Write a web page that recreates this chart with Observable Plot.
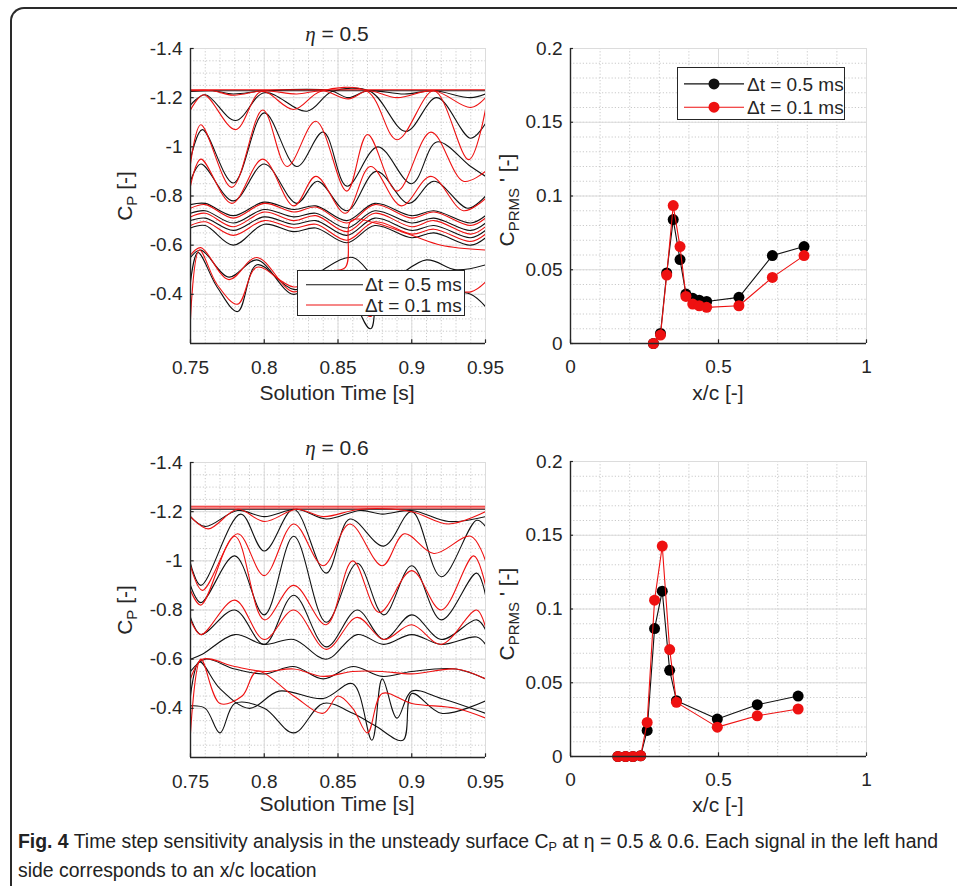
<!DOCTYPE html>
<html><head><meta charset="utf-8">
<script src="https://cdn.jsdelivr.net/npm/d3@7"></script>
<script src="https://cdn.jsdelivr.net/npm/@observablehq/plot@0.6"></script>
<style>
body{margin:0;background:#fff;}
#root{position:relative;width:957px;height:886px;overflow:hidden;background:#fff;font-family:"Liberation Sans",Arial,sans-serif;color:#262626;}
.frame{position:absolute;left:10px;top:7px;width:1000px;height:1000px;border-left:2px solid #2a2a2a;border-top:2px solid #2a2a2a;border-top-left-radius:14px;}
.abs{position:absolute;white-space:nowrap;}
.lbl{font-size:21px;transform:translate(-50%,-50%);}
.ylbl{font-size:21px;transform:translate(-50%,-50%) rotate(-90deg);}
.leg{position:absolute;background:#fff;border:1px solid #262626;box-sizing:border-box;font-size:19px;}
.cap{position:absolute;left:18px;white-space:nowrap;font-family:"Liberation Sans",Arial,sans-serif;font-size:20px;color:#222;transform-origin:0 50%;}
</style></head><body><div id="root"><div class="frame"></div></div>
<script>
// ---------- data ----------
const timeTicks = [0.75, 0.8, 0.85, 0.9, 0.95];
const cpTicks = [-1.4, -1.2, -1, -0.8, -0.6, -0.4];
const xcTicks = [0, 0.5, 1];
const rmsTicks = [0, 0.05, 0.1, 0.15, 0.2];
const seriesNames = ["\u0394t = 0.5 ms", "\u0394t = 0.1 ms"];

// eta = 0.5, Cp signals (extrema), black = 0.5 ms, red = 0.1 ms
const cp05_black = [
  [[0.75,-1.228],[0.95,-1.228]],
  [[0.75,-1.225],[0.765,-1.228],[0.779,-1.215],[0.80,-1.228],[0.845,-1.228],[0.857,-1.2],[0.87,-1.228],[0.895,-1.215],[0.915,-1.228],[0.94,-1.2],[0.95,-1.215]],
  [[0.75,-1.17],[0.76,-1.212],[0.7805,-1.107],[0.80,-1.22],[0.829,-1.145],[0.846,-1.225],[0.872,-1.225],[0.896,-1.063],[0.917,-1.2],[0.94,-1.035],[0.95,-1.095]],
  [[0.75,-0.95],[0.758,-1.07],[0.779,-0.853],[0.80,-1.138],[0.822,-0.92],[0.84,-1.06],[0.856,-0.84],[0.877,-1.0],[0.9,-0.85],[0.917,-1.02],[0.94,-0.92],[0.95,-0.88]],
  [[0.75,-0.86],[0.757,-0.93],[0.779,-0.78],[0.80,-0.93],[0.822,-0.77],[0.836,-0.86],[0.856,-0.74],[0.876,-0.9],[0.898,-0.77],[0.915,-0.86],[0.938,-0.75],[0.95,-0.8]],
  [[0.75,-0.765],[0.76,-0.77],[0.779,-0.72],[0.80,-0.775],[0.82,-0.745],[0.835,-0.76],[0.856,-0.7],[0.875,-0.77],[0.9,-0.72],[0.915,-0.74],[0.94,-0.69],[0.95,-0.72]],
  [[0.75,-0.73],[0.76,-0.74],[0.779,-0.69],[0.80,-0.745],[0.82,-0.715],[0.835,-0.73],[0.856,-0.67],[0.875,-0.74],[0.9,-0.69],[0.915,-0.71],[0.94,-0.66],[0.95,-0.69]],
  [[0.75,-0.7],[0.76,-0.71],[0.779,-0.66],[0.80,-0.715],[0.82,-0.685],[0.835,-0.70],[0.856,-0.64],[0.875,-0.71],[0.9,-0.66],[0.915,-0.68],[0.94,-0.63],[0.95,-0.66]],
  [[0.75,-0.67],[0.76,-0.68],[0.779,-0.6],[0.80,-0.685],[0.82,-0.655],[0.835,-0.67],[0.856,-0.61],[0.875,-0.68],[0.9,-0.63],[0.915,-0.65],[0.94,-0.6],[0.95,-0.63]],
  [[0.75,-0.55],[0.757,-0.58],[0.776,-0.47],[0.795,-0.54],[0.82,-0.4],[0.84,-0.5],[0.86,-0.55],[0.88,-0.45],[0.91,-0.54],[0.93,-0.5],[0.95,-0.52]],
  [[0.75,-0.45],[0.755,-0.57],[0.768,-0.43],[0.782,-0.33],[0.795,-0.52],[0.82,-0.42],[0.85,-0.47],[0.872,-0.26],[0.88,-0.47],[0.92,-0.42],[0.94,-0.4],[0.95,-0.35]]
];
const cp05_red = [
  [[0.75,-1.232],[0.95,-1.232]],
  [[0.75,-1.228],[0.765,-1.228],[0.779,-1.21],[0.80,-1.228],[0.822,-1.215],[0.84,-1.228],[0.857,-1.195],[0.87,-1.228],[0.89,-1.2],[0.915,-1.228],[0.94,-1.16],[0.95,-1.2]],
  [[0.75,-1.15],[0.759,-1.212],[0.7805,-1.07],[0.798,-1.225],[0.82,-1.152],[0.838,-1.225],[0.87,-1.225],[0.89,-1.029],[0.915,-1.228],[0.9387,-0.948],[0.95,-1.152]],
  [[0.75,-0.93],[0.757,-1.09],[0.778,-0.835],[0.799,-1.15],[0.8155,-0.92],[0.835,-1.104],[0.856,-0.82],[0.87,-1.05],[0.89,-0.82],[0.913,-1.06],[0.935,-0.86],[0.95,-0.9]],
  [[0.75,-0.84],[0.757,-0.95],[0.778,-0.77],[0.799,-0.95],[0.82,-0.76],[0.835,-0.88],[0.855,-0.73],[0.872,-0.92],[0.893,-0.76],[0.913,-0.88],[0.935,-0.74],[0.95,-0.79]],
  [[0.75,-0.75],[0.76,-0.765],[0.779,-0.71],[0.80,-0.77],[0.82,-0.735],[0.835,-0.755],[0.856,-0.69],[0.875,-0.765],[0.9,-0.71],[0.915,-0.735],[0.94,-0.68],[0.95,-0.71]],
  [[0.75,-0.715],[0.76,-0.73],[0.779,-0.675],[0.80,-0.735],[0.82,-0.7],[0.835,-0.72],[0.856,-0.655],[0.875,-0.73],[0.9,-0.675],[0.915,-0.7],[0.94,-0.645],[0.95,-0.675]],
  [[0.75,-0.68],[0.76,-0.695],[0.779,-0.64],[0.80,-0.70],[0.82,-0.67],[0.835,-0.685],[0.856,-0.62],[0.875,-0.695],[0.9,-0.645],[0.915,-0.665],[0.94,-0.615],[0.95,-0.645]],
  [[0.75,-0.56],[0.757,-0.59],[0.776,-0.46],[0.795,-0.55],[0.82,-0.41],[0.84,-0.49],[0.855,-0.51],[0.859,-0.7],[0.875,-0.69],[0.9,-0.64],[0.92,-0.6],[0.95,-0.58]],
  [[0.75,-0.3],[0.756,-0.58],[0.768,-0.44],[0.782,-0.36],[0.795,-0.51],[0.82,-0.43],[0.85,-0.48],[0.872,-0.31],[0.88,-0.46],[0.92,-0.43],[0.94,-0.41],[0.95,-0.45]]
];
// eta = 0.6
const cp06_black = [
  [[0.75,-1.21],[0.95,-1.21]],
  [[0.75,-1.18],[0.76,-1.14],[0.782,-1.205],[0.80,-1.18],[0.822,-1.21],[0.842,-1.17],[0.865,-1.205],[0.88,-1.19],[0.9,-1.205],[0.925,-1.16],[0.95,-1.18]],
  [[0.75,-0.99],[0.757,-0.9],[0.784,-1.19],[0.80,-1.04],[0.82,-1.21],[0.842,-0.95],[0.858,-1.17],[0.881,-1.06],[0.9,-1.2],[0.92,-0.935],[0.944,-1.165],[0.95,-1.14]],
  [[0.75,-0.9],[0.757,-0.83],[0.78,-1.02],[0.80,-0.78],[0.82,-1.1],[0.842,-0.75],[0.863,-0.99],[0.881,-0.78],[0.9,-0.98],[0.92,-0.76],[0.944,-0.95],[0.95,-0.86]],
  [[0.75,-0.77],[0.757,-0.7],[0.78,-0.8],[0.80,-0.66],[0.82,-0.86],[0.842,-0.65],[0.863,-0.8],[0.881,-0.68],[0.9,-0.78],[0.92,-0.68],[0.944,-0.76],[0.95,-0.72]],
  [[0.75,-0.6],[0.758,-0.62],[0.78,-0.7],[0.80,-0.66],[0.82,-0.68],[0.842,-0.6],[0.863,-0.7],[0.881,-0.66],[0.9,-0.7],[0.92,-0.66],[0.944,-0.69],[0.95,-0.66]],
  [[0.75,-0.55],[0.76,-0.6],[0.78,-0.56],[0.80,-0.54],[0.82,-0.57],[0.84,-0.52],[0.86,-0.57],[0.88,-0.53],[0.9,-0.55],[0.93,-0.56],[0.95,-0.52]],
  [[0.75,-0.45],[0.756,-0.59],[0.77,-0.48],[0.79,-0.4],[0.81,-0.47],[0.84,-0.44],[0.86,-0.5],[0.873,-0.27],[0.88,-0.52],[0.89,-0.36],[0.9,-0.47],[0.92,-0.44],[0.95,-0.38]],
  [[0.75,-0.41],[0.76,-0.4],[0.77,-0.3],[0.78,-0.42],[0.8,-0.4],[0.82,-0.3],[0.84,-0.42],[0.86,-0.38],[0.875,-0.33],[0.894,-0.27],[0.9,-0.46],[0.92,-0.38],[0.95,-0.43]]
];
const cp06_red = [
  [[0.75,-1.215],[0.95,-1.215]],
  [[0.75,-1.222],[0.95,-1.222]],
  [[0.75,-1.18],[0.762,-1.13],[0.782,-1.21],[0.80,-1.16],[0.822,-1.21],[0.84,-1.18],[0.865,-1.21],[0.9,-1.2],[0.925,-1.15],[0.95,-1.2]],
  [[0.75,-0.98],[0.758,-0.88],[0.782,-1.11],[0.80,-0.94],[0.82,-1.15],[0.84,-0.98],[0.858,-1.15],[0.88,-0.98],[0.895,-1.11],[0.915,-1.03],[0.94,-1.1],[0.95,-1.0]],
  [[0.75,-0.88],[0.757,-0.82],[0.78,-1.1],[0.80,-0.76],[0.82,-0.9],[0.842,-0.74],[0.86,-1.0],[0.878,-0.79],[0.9,-0.96],[0.92,-0.8],[0.942,-1.02],[0.95,-0.9]],
  [[0.75,-0.76],[0.757,-0.7],[0.78,-0.84],[0.80,-0.68],[0.82,-0.8],[0.842,-0.64],[0.863,-0.77],[0.881,-0.68],[0.9,-0.74],[0.92,-0.66],[0.944,-0.8],[0.95,-0.73]],
  [[0.75,-0.52],[0.758,-0.6],[0.78,-0.57],[0.80,-0.55],[0.82,-0.56],[0.84,-0.53],[0.86,-0.55],[0.88,-0.55],[0.9,-0.54],[0.93,-0.56],[0.95,-0.52]],
  [[0.75,-0.3],[0.757,-0.6],[0.77,-0.42],[0.785,-0.45],[0.795,-0.55],[0.82,-0.45],[0.84,-0.38],[0.85,-0.45],[0.86,-0.4],[0.87,-0.3],[0.88,-0.46],[0.9,-0.42],[0.93,-0.4],[0.95,-0.36]]
];

// Cp' RMS vs x/c
const xc05 = [0.28, 0.304, 0.325, 0.347, 0.370, 0.390, 0.413, 0.435, 0.460, 0.569, 0.682, 0.789];
const rms05_black = [0.0, 0.0068, 0.0478, 0.084, 0.0569, 0.0335, 0.0306, 0.0294, 0.0285, 0.0313, 0.0596, 0.0657];
const rms05_red   = [0.0, 0.0057, 0.0464, 0.0935, 0.0657, 0.0319, 0.0267, 0.0256, 0.0245, 0.0256, 0.0448, 0.0596];
const xc06 = [0.160, 0.186, 0.211, 0.237, 0.259, 0.284, 0.310, 0.335, 0.358, 0.496, 0.631, 0.769];
const rms06_black = [0.0, 0.0, 0.0, 0.0005, 0.0177, 0.0867, 0.1121, 0.0584, 0.0378, 0.0254, 0.0351, 0.0410];
const rms06_red   = [0.0, 0.0, 0.0, 0.0005, 0.0231, 0.106, 0.1427, 0.0725, 0.0367, 0.0199, 0.0276, 0.0322];

// ---------- helpers ----------
const root = document.getElementById("root");
const FONT = '"Liberation Sans", Arial, sans-serif';
const AX = "#262626";
const range = (a, b, s) => d3.range(Math.round((b - a) / s) + 1).map(i => +(a + i * s).toFixed(6));

function toRows(list, color) {
  const rows = [];
  list.forEach((ser, i) => ser.forEach(([t, v]) => rows.push({t, v, id: color + i})));
  return rows;
}
function place(svg, left, top) {
  svg.style.position = "absolute"; svg.style.left = left + "px"; svg.style.top = top + "px";
  svg.style.overflow = "visible";
  root.appendChild(svg);
}
function addDiv(cls, html, left, top, extra) {
  const d = document.createElement("div");
  d.className = cls; d.innerHTML = html;
  d.style.left = left + "px"; d.style.top = top + "px";
  if (extra) Object.assign(d.style, extra);
  root.appendChild(d); return d;
}

function cpPanel(black, red, left, top) {
  const rowsB = toRows(black, "b"), rowsR = toRows(red, "r");
  const minX = range(0.75, 0.95, 0.01), minY = range(-1.4, -0.2, 0.05);
  const svg = Plot.plot({
    width: 400, height: 390, marginLeft: 90, marginRight: 15, marginTop: 28, marginBottom: 67,
    style: {fontFamily: FONT, fontSize: "19px", color: AX, background: "transparent"},
    x: {domain: [0.75, 0.95]},
    y: {domain: [-0.2, -1.4]},
    marks: [
      Plot.ruleX(minX, {stroke: "#c4c4c4", strokeDasharray: "1.2,2", strokeWidth: 0.9}),
      Plot.ruleY(minY, {stroke: "#c4c4c4", strokeDasharray: "1.2,2", strokeWidth: 0.9}),
      Plot.ruleX(timeTicks, {stroke: "#dcdcdc", strokeWidth: 1}),
      Plot.ruleY(cpTicks.concat([-0.2]), {stroke: "#dcdcdc", strokeWidth: 1}),
      Plot.line(rowsB, {x: "t", y: "v", z: "id", stroke: "#111", strokeWidth: 1.1, curve: "catmull-rom", clip: true}),
      Plot.line(rowsR, {x: "t", y: "v", z: "id", stroke: "#ee1111", strokeWidth: 1.1, curve: "catmull-rom", clip: true}),
      Plot.ruleX([0.75], {stroke: AX, strokeWidth: 1.4}),
      Plot.ruleY([-0.2], {stroke: AX, strokeWidth: 1.4}),
      Plot.ruleX(timeTicks, {y1: -0.2, y2: -0.215, stroke: AX, strokeWidth: 1.2}),
      Plot.ruleY(cpTicks, {x1: 0.75, x2: 0.7525, stroke: AX, strokeWidth: 1.2}),
      Plot.axisX(timeTicks, {tickSize: 0, tickPadding: 17, fontSize: 19, tickFormat: d => String(d), label: null}),
      Plot.axisY(cpTicks, {tickSize: 0, tickPadding: 8, fontSize: 19, tickFormat: d => String(d), label: null})
    ]
  });
  place(svg, left, top);
}

function rmsPanel(xs, yb, yr, left, top) {
  const rb = xs.map((x, i) => ({x, y: yb[i]})), rr = xs.map((x, i) => ({x, y: yr[i]}));
  const minX = range(0, 1, 0.1), minY = range(0, 0.2, 0.01);
  const svg = Plot.plot({
    width: 406, height: 390, marginLeft: 90, marginRight: 20, marginTop: 28, marginBottom: 67,
    style: {fontFamily: FONT, fontSize: "19px", color: AX, background: "transparent"},
    x: {domain: [0, 1]},
    y: {domain: [0, 0.2]},
    marks: [
      Plot.ruleX(minX, {stroke: "#c4c4c4", strokeDasharray: "1.2,2", strokeWidth: 0.9}),
      Plot.ruleY(minY, {stroke: "#c4c4c4", strokeDasharray: "1.2,2", strokeWidth: 0.9}),
      Plot.ruleX(xcTicks, {stroke: "#dcdcdc", strokeWidth: 1}),
      Plot.ruleY(rmsTicks, {stroke: "#dcdcdc", strokeWidth: 1}),
      Plot.line(rb, {x: "x", y: "y", stroke: "#111", strokeWidth: 1.1}),
      Plot.dot(rb, {x: "x", y: "y", r: 5.5, fill: "#000", stroke: "none"}),
      Plot.line(rr, {x: "x", y: "y", stroke: "#ee1111", strokeWidth: 1.1}),
      Plot.dot(rr, {x: "x", y: "y", r: 5.5, fill: "#ee1111", stroke: "none"}),
      Plot.ruleX([0], {stroke: AX, strokeWidth: 1.4}),
      Plot.ruleY([0], {stroke: AX, strokeWidth: 1.4}),
      Plot.ruleX(xcTicks, {y1: 0, y2: 0.0025, stroke: AX, strokeWidth: 1.2}),
      Plot.ruleY(rmsTicks, {x1: 0, x2: 0.01, stroke: AX, strokeWidth: 1.2}),
      Plot.axisX(xcTicks, {tickSize: 0, tickPadding: 16, fontSize: 19, tickFormat: d => String(d), label: null}),
      Plot.axisY(rmsTicks, {tickSize: 0, tickPadding: 8, fontSize: 19, tickFormat: d => String(d), label: null})
    ]
  });
  place(svg, left, top);
}

// ---------- panels ----------
cpPanel(cp05_black, cp05_red, 100, 20);
cpPanel(cp06_black, cp06_red, 100, 434);
rmsPanel(xc05, rms05_black, rms05_red, 480, 20);
rmsPanel(xc06, rms06_black, rms06_red, 480, 433);

// titles and labels
const eta = '<span style="font-family:\'Liberation Serif\',serif;font-style:italic;">\u03b7</span>';
addDiv("abs lbl", eta + " = 0.5", 337, 34);
addDiv("abs lbl", eta + " = 0.6", 337, 448);
addDiv("abs lbl", "Solution Time [s]", 337, 393);
addDiv("abs lbl", "Solution Time [s]", 337, 804);
addDiv("abs lbl", "x/c [-]", 718, 393);
addDiv("abs lbl", "x/c [-]", 718, 805);
const cpl = 'C<sub style="font-size:15px;vertical-align:-5px;">P</sub> [-]';
addDiv("abs ylbl", cpl, 126, 196);
addDiv("abs ylbl", cpl, 126, 610);
const rmsl = "C<sub style=\"font-size:15px;vertical-align:-5px;\">PRMS</sub> ' [-]";
addDiv("abs ylbl", rmsl, 508, 200);
addDiv("abs ylbl", rmsl, 508, 614);

// legends
function legend(left, top, w, h, withDots, lineX0, lineX1, textX) {
  const L = document.createElement("div");
  L.className = "leg";
  Object.assign(L.style, {left: left + "px", top: top + "px", width: w + "px", height: h + "px"});
  const cols = ["#111", "#ee1111"];
  let s = `<svg width="${w}" height="${h}" style="position:absolute;left:0;top:0">`;
  seriesNames.forEach((n, i) => {
    const y = h * (i === 0 ? 0.3 : 0.74);
    s += `<line x1="${lineX0}" x2="${lineX1}" y1="${y}" y2="${y}" stroke="${cols[i]}" stroke-width="1.1"/>`;
    if (withDots) s += `<circle cx="${(lineX0 + lineX1) / 2}" cy="${y}" r="5.5" fill="${cols[i]}"/>`;
    s += `<text x="${textX}" y="${y}" dy="0.35em" font-size="19" fill="#262626" font-family='${FONT}'>${n}</text>`;
  });
  s += "</svg>";
  L.innerHTML = s;
  root.appendChild(L);
}
legend(297, 270, 168, 46, false, 8, 65, 67);
legend(677, 67, 168, 53, true, 6, 66, 69);

// caption (one common horizontal scale so the glyphs look condensed)
const c1 = addDiv("cap", '<b>Fig. 4</b> Time step sensitivity analysis in the unsteady surface C<sub style="font-size:13px;vertical-align:-3px;">P</sub> at \u03b7 = 0.5 &amp; 0.6. Each signal in the left hand', 18, 830);
const c2 = addDiv("cap", 'side corresponds to an x/c location', 18, 859);
const k = 920 / c1.getBoundingClientRect().width;
[c1, c2].forEach(el => { el.style.transform = `scaleX(${k})`; });
</script></body></html>
